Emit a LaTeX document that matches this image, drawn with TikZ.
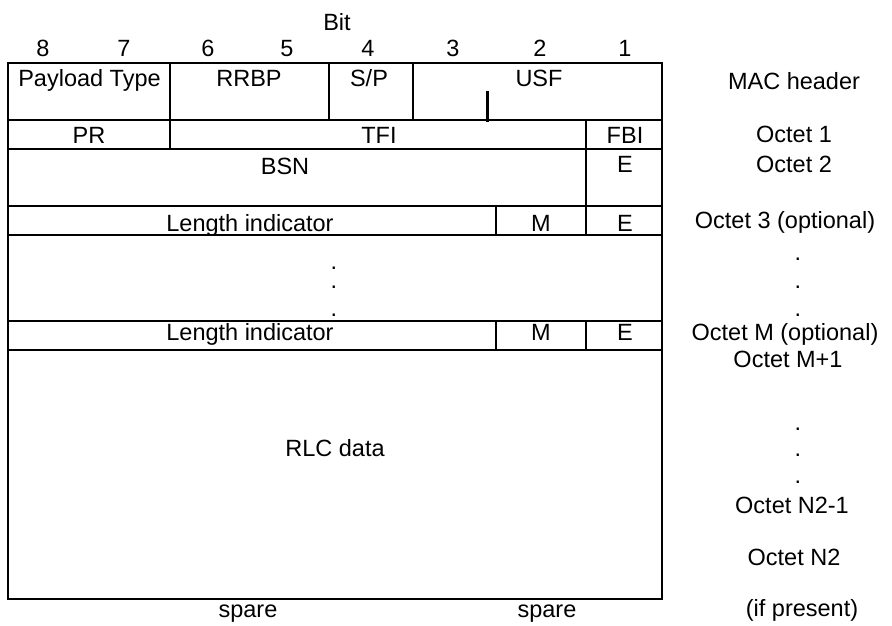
\documentclass[tikz,border=0pt]{standalone}
\usepackage{fontspec}
\setmainfont{Liberation Sans}
\begin{document}
\begin{tikzpicture}[x=1pt, y=-1pt, line width=2pt, font=\fontsize{23.5}{28}\selectfont,
  txt/.style={anchor=base, inner sep=0pt}]
\useasboundingbox (0,0) rectangle (892,626);
% bit numbers
\node[txt] (bit) at (337,31) {Bit};
\foreach \b/\x in {8/43,7/124,6/208,5/287,4/368,3/453,2/540,1/625}
  \node[txt] (bit\b) at (\x,57) {\b};
% frame and rows
\draw (8,63) rectangle (662,599);
\foreach \y in {120,149,206,235,321,350}
  \draw (8,\y) -- (662,\y);
\draw (170,63) -- (170,149);
\draw (329,63) -- (329,120);
\draw (413,63) -- (413,120);
\draw (586,120) -- (586,235);
\draw (496,206) -- (496,235);
\draw (586,321) -- (586,350);
\draw (496,321) -- (496,350);
\draw[line width=3pt] (487,91) -- (487,122);
% fields
\node[txt] (pt) at (89.5,87) {Payload Type};
\node[txt] (rrbp) at (249,87) {RRBP};
\node[txt] (sp) at (369,87) {S/P};
\node[txt] (usf) at (539,87) {USF};
\node[txt] (pr) at (89,143) {PR};
\node[txt] (tfi) at (379,143) {TFI};
\node[txt] (fbi) at (625,143) {FBI};
\node[txt] (bsn) at (285,174) {BSN};
\node[txt] (e1) at (625,172) {E};
\node[txt] (li1) at (250,231) {Length indicator};
\node[txt] (m1) at (541,231) {M};
\node[txt] (e2) at (625,231) {E};
\foreach \y [count=\i] in {269,288,316}
  \node[txt] (dot\i) at (334,\y) {.};
\node[txt] (li2) at (250,340) {Length indicator};
\node[txt] (m2) at (541,340) {M};
\node[txt] (e3) at (625,340) {E};
\node[txt] (rlc) at (335,456) {RLC data};
\node[txt] (spare1) at (248,617) {spare};
\node[txt] (spare2) at (547,617) {spare};
% octet labels
\node[txt] (mac) at (794,89) {MAC header};
\node[txt] (oct1) at (794,142) {Octet 1};
\node[txt] (oct2) at (794,172) {Octet 2};
\node[txt] (oct3) at (785,228) {Octet 3 (optional)};
\foreach \y [count=\i] in {260,288,316}
  \node[txt] (rdot\i) at (798,\y) {.};
\node[txt] (octm) at (785,340) {Octet M (optional)};
\node[txt] (octm1) at (788,367) {Octet M+1};
\foreach \y [count=\i] in {430,456,483}
  \node[txt] (ldot\i) at (798,\y) {.};
\node[txt] (octn1) at (792,513) {Octet N2-1};
\node[txt] (octn) at (794,565) {Octet N2};
\node[txt] (ifp) at (802,616) {(if present)};
\end{tikzpicture}
\end{document}
